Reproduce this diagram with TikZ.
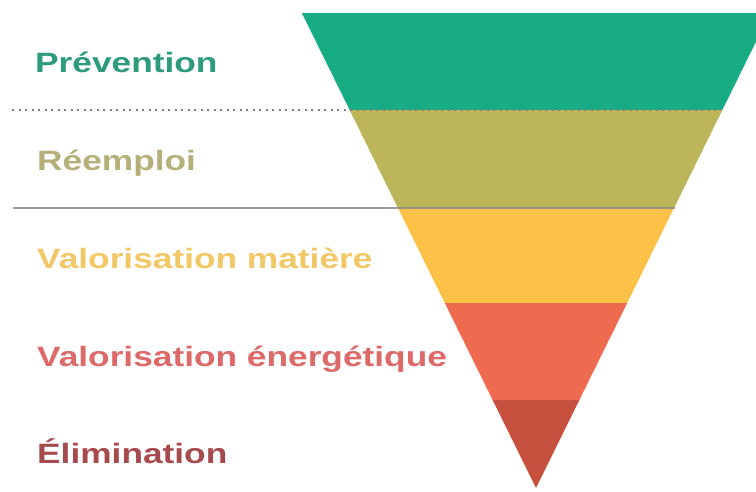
\documentclass[tikz,border=0pt]{standalone}
\usepackage{fontspec}
\newfontfamily\levelfont[FakeStretch=1.26]{Liberation Sans}
\definecolor{prevfill}{HTML}{17AC84}
\definecolor{reemfill}{HTML}{BDB55A}
\definecolor{matfill}{HTML}{FBC247}
\definecolor{energfill}{HTML}{EF6B4F}
\definecolor{elimfill}{HTML}{C8503F}
\definecolor{prevtext}{HTML}{2E9C7C}
\definecolor{reemtext}{HTML}{B5B07A}
\definecolor{mattext}{HTML}{F2C766}
\definecolor{energtext}{HTML}{DD6A68}
\definecolor{elimtext}{HTML}{A64A4E}

\begin{document}
\begin{tikzpicture}[x=1pt,y=-1pt,
    level/.style={anchor=base west,inner sep=0pt,font=\levelfont\bfseries\fontsize{28}{28}\selectfont}]
    \useasboundingbox (0,0) rectangle (756,491);
    \clip (0,0) rectangle (756,491);
    \foreach \ya/\yb/\col in {13/110/prevfill,110/208/reemfill,208/303/matfill,303/400/energfill,400/488/elimfill}
      \fill[\col] ({536-0.493*(488-\ya)},\ya) -- ({536+0.493*(488-\ya)},\ya)
        -- ({536+0.493*(488-\yb)},\yb) -- ({536-0.493*(488-\yb)},\yb) -- cycle;
    \coordinate (dotl) at (12,110);
    \coordinate (dotr) at (722,110);
    \coordinate (linel) at (13,208);
    \coordinate (liner) at (675,208);
    \node[level,text=prevtext] (prev) at (35,72) {Prévention};
    \node[level,text=reemtext] (reem) at (37,170) {Réemploi};
    \node[level,text=mattext] (mat) at (37,268) {Valorisation matière};
    \node[level,text=energtext] (energ) at (37,366) {Valorisation énergétique};
    \node[level,text=elimtext] (elim) at (37,463) {Élimination};
    \draw[gray,line width=1.8pt,dash pattern=on 2pt off 4.5pt] (dotl) -- (dotr);
    \draw[black!45,opacity=.85,line width=2pt] (linel) -- (liner);
  \end{tikzpicture}
\end{document}
